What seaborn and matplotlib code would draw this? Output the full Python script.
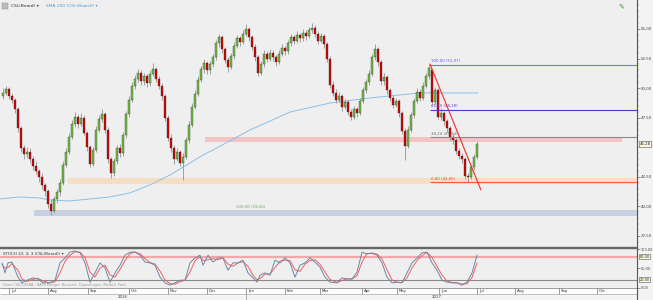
import matplotlib
matplotlib.use("Agg")
import matplotlib.pyplot as plt
import matplotlib.transforms as mtransforms
from matplotlib.ticker import MultipleLocator, FixedLocator
import numpy as np
import pandas as pd
import seaborn as sns

# ---------------- data ----------------
opens = [49.3,49.6,49.9,49.3,49.0,48.2,46.6,44.9,44.4,44.6,44.0,43.4,43.0,42.5,41.8,41.3,40.2,39.6,40.6,41.2,42.0,43.5,44.6,45.9,47.0,47.6,47.0,47.5,46.2,45.0,43.6,44.8,46.5,47.4,47.8,46.5,44.0,42.8,43.8,44.9,44.5,46.0,47.8,49.0,50.2,50.8,51.3,50.6,51.0,50.4,51.2,51.6,50.8,50.2,49.3,47.5,45.8,44.9,44.0,44.6,43.7,44.2,45.6,46.9,48.4,49.5,50.7,51.6,52.1,51.5,52.0,52.6,53.8,54.3,53.3,52.4,51.8,52.7,53.6,54.2,53.9,54.6,55.0,54.3,53.5,52.6,51.3,52.0,52.9,52.5,53.0,52.6,52.2,52.9,53.4,53.1,53.8,54.3,54.0,54.5,54.2,54.7,54.4,54.9,55.1,54.6,54.0,54.4,53.7,52.5,50.3,49.6,49.0,49.3,48.4,48.8,48.0,47.6,48.2,47.9,48.9,49.8,50.5,51.2,52.6,53.3,52.2,50.6,50.9,49.8,49.2,48.6,48.9,47.9,46.4,45.1,46.5,47.7,48.9,49.7,49.2,50.2,51.0,51.5,48.8,49.8,47.6,47.9,47.2,46.6,45.9,45.6,44.7,44.3,44.0,42.6,42.5,43.3,44.2]
closes = [49.6,49.9,49.3,49.0,48.2,46.6,44.9,44.4,44.6,44.0,43.4,43.0,42.5,41.8,41.3,40.2,39.6,40.6,41.2,42.0,43.5,44.6,45.9,47.0,47.6,47.0,47.5,46.2,45.0,43.6,44.8,46.5,47.4,47.8,46.5,44.0,42.8,43.8,44.9,44.5,46.0,47.8,49.0,50.2,50.8,51.3,50.6,51.0,50.4,51.2,51.6,50.8,50.2,49.3,47.5,45.8,44.9,44.0,44.6,43.7,44.2,45.6,46.9,48.4,49.5,50.7,51.6,52.1,51.5,52.0,52.6,53.8,54.3,53.3,52.4,51.8,52.7,53.6,54.2,53.9,54.6,55.0,54.3,53.5,52.6,51.3,52.0,52.9,52.5,53.0,52.6,52.2,52.9,53.4,53.1,53.8,54.3,54.0,54.5,54.2,54.7,54.4,54.9,55.1,54.6,54.0,54.4,53.7,52.5,50.3,49.6,49.0,49.3,48.4,48.8,48.0,47.6,48.2,47.9,48.9,49.8,50.5,51.2,52.6,53.3,52.2,50.6,50.9,49.8,49.2,48.6,48.9,47.9,46.4,45.1,46.5,47.7,48.9,49.7,49.2,50.2,51.0,51.7,48.8,49.8,47.6,47.9,47.2,46.6,45.9,45.6,44.7,44.3,44.0,42.6,42.5,43.3,44.2,45.3]
highs = [50.0,50.2,50.1,49.6,49.2,48.4,46.8,45.2,45.0,44.9,44.3,43.8,43.2,42.8,42.0,41.5,40.6,40.9,41.5,42.3,43.8,44.9,46.2,47.3,48.0,47.8,47.9,47.7,46.4,45.2,45.0,46.8,47.7,48.2,48.0,46.7,44.2,44.1,45.2,45.3,46.3,48.1,49.3,50.5,51.1,51.6,51.5,51.3,51.2,51.5,52.1,51.8,51.0,50.4,49.5,47.7,46.1,45.2,44.9,44.8,44.5,45.9,47.2,48.7,49.8,51.0,51.9,52.5,52.3,52.3,52.9,54.1,54.6,54.5,53.5,52.6,53.0,53.9,54.5,54.4,54.9,55.4,55.2,54.5,53.7,52.8,52.3,53.2,53.1,53.3,53.2,52.8,53.2,53.7,53.6,54.1,54.6,54.5,54.8,54.7,55.0,54.9,55.2,55.5,55.3,54.8,54.7,54.6,53.9,52.7,50.6,49.9,49.7,49.5,49.1,49.0,48.2,48.5,48.4,49.2,50.1,50.8,51.5,52.9,53.7,53.5,52.4,51.3,51.1,50.0,49.4,49.2,49.1,48.1,46.6,46.8,48.0,49.2,50.0,49.9,50.5,51.3,52.0,51.7,50.1,50.0,48.3,48.1,47.4,46.8,46.1,45.8,44.9,44.5,44.2,42.8,43.5,44.4,45.5]
lows = [49.1,49.4,49.1,48.7,47.9,46.3,44.6,44.0,44.1,43.7,43.1,42.7,42.1,41.5,40.9,39.9,39.3,39.4,40.3,40.9,41.8,43.3,44.4,45.7,46.7,46.6,46.8,46.0,44.7,43.3,43.4,44.6,46.3,47.1,46.2,43.7,42.4,42.6,43.6,44.2,44.3,45.8,47.6,48.8,49.9,50.5,50.3,50.3,50.1,50.2,51.0,50.5,49.9,49.0,47.2,45.5,44.6,43.6,43.8,43.4,42.2,44.0,45.4,46.7,48.2,49.3,50.5,51.3,51.2,51.2,51.8,52.4,53.5,53.0,52.1,51.4,51.6,52.5,53.4,53.6,53.7,54.4,54.0,53.2,52.3,51.0,51.1,51.8,52.2,52.3,52.3,51.9,52.0,52.7,52.8,52.9,53.6,53.7,53.8,53.9,54.0,54.1,54.2,54.7,54.3,53.7,53.8,53.4,52.2,50.0,49.3,48.7,48.8,48.1,48.2,47.7,47.3,47.4,47.6,47.7,48.7,49.6,50.3,51.0,52.4,51.9,50.3,50.3,49.5,48.9,48.3,48.4,47.6,46.1,43.9,44.9,46.3,47.5,48.7,48.9,49.0,50.0,50.8,48.6,48.6,47.4,47.3,46.9,46.3,45.6,45.3,44.4,44.0,43.7,42.3,42.05,42.3,43.1,44.0]

sma_idx = [-1, 5.7, 12.3, 15.7, 22.3, 29, 35.7, 42.3, 49, 55.7, 62.3, 66.7, 70, 82.3, 95.7, 109, 122.3, 132.3, 139, 158.3]
sma_val = [40.63, 40.80, 40.71, 40.54, 40.46, 40.63, 40.80, 41.14, 41.82, 42.66, 43.67, 44.35, 44.77, 46.46, 47.98, 48.74, 49.17, 49.42, 49.59, 49.59]

stoch_x = [-0.33,0.67,1.67,3,5,6.33,8,10,11.67,13.33,15.67,17.33,19,20.67,22.33,24,25.67,27.33,29,30.67,32.33,34,35.67,37.33,39,40.67,42.33,44,45.67,47.33,49,50.67,52.33,54,55.67,57.33,59,60.67,62.33,64,65.67,66.67,68.33,70,71.67,73.33,75,76.67,78.33,80,81.67,83.33,84.67,85.67,87.33,89,90.67,92.33,94,95.67,97.33,99,100.67,102.33,104,105.67,107.33,109,111.33,113,114.67,116.33,118,119.67,121.33,123,124.67,126.33,128,129.67,131.33,133,134.67,136.33,138,139.67,141.33,143,144.67,146.33,148,149.67,151.33,153,154.67,156.33,158]
stoch_k = [64,38,64,66,27,12,19,25,22,12,12,19,64,77,92,95,90,64,14,38,64,51,14,38,58,84,92,92,84,66,64,58,27,12,6,12,19,19,64,77,84,58,84,66,77,77,45,64,64,71,38,25,14,32,38,32,71,64,77,64,27,58,64,77,66,53,27,14,12,25,22,22,40,92,87,90,84,64,27,12,14,12,38,64,77,90,92,64,45,19,14,12,12,6,14,38,84]
stoch_d = [60,50,52,62,45,22,16,21,24,17,12,15,38,68,84,93,92,78,40,27,50,58,33,27,47,70,88,92,88,75,65,61,43,20,10,9,15,19,40,70,80,70,72,75,72,77,61,55,64,67,55,32,20,23,35,35,52,68,71,70,46,42,61,70,72,60,40,21,13,18,23,22,31,66,89,88,87,74,46,20,13,13,25,51,70,83,91,78,55,32,17,13,12,9,10,26,64]

price_ticks = [37.5, 40.0, 42.5, 47.5, 50.0, 52.5, 55.0]
last_price = 45.28
fib_levels = [51.97, 48.18, 45.84, 42.05]
fib_labels = ["100,00 (51,97)", "61,80 (48,18)", "38,20 (45,84)", "0,00 (42,05)"]
fib2_label = "100,00 (39,43)"
trend_x = [142.3, 159.3]
trend_y = [52.04, 41.39]
zone_pink = (67.3, 206.3, 45.45, 45.87)
zone_orange = (21.7, 212.0, 41.90, 42.40)
zone_blue = (10.3, 212.0, 39.15, 39.60)

month_pos = [2, 15, 28.33, 42, 55, 68, 81, 94, 105.67, 119.67, 131.33, 145.33, 158, 170.67, 185.33, 198]
month_lab = ["Jul", "Aug", "Sep", "Oct", "Nov", "Dec", "Jan", "Feb", "Mar", "Apr", "May", "Jun", "Jul", "Aug", "Sep", "Oct"]
year_lab = ["2016", "2017"]
year_pos = [40.0, 144.7]
year_sep = 81

# ---------------- figure ----------------
sns.set_theme(style="white")
plt.rcParams['font.family'] = ['DejaVu Sans']

W, H = 653, 300
fig = plt.figure(figsize=(W / 100, H / 100), dpi=100, facecolor='#f3f3f3')

def px_ax(x0, y0, x1, y1):
    return fig.add_axes([x0 / W, 1 - y1 / H, (x1 - x0) / W, (y1 - y0) / H])

BG = '#efefef'
ax = px_ax(0, 0, 637, 246.5)
axs = px_ax(0, 247.5, 637, 288)
axd = px_ax(0, 288, 637, 300)
XMIN, XMAX = -1, 211.33

n = min(len(opens), len(closes), len(highs), len(lows))
df = pd.DataFrame({'i': np.arange(n), 'o': opens[:n], 'c': closes[:n],
                   'h': highs[:n], 'l': lows[:n]})

# ---- main panel ----
ax.set_facecolor(BG)
ax.set_xlim(XMIN, XMAX)
ax.set_ylim(36.61, 57.45)

for (x0, x1, y0, y1), col in [(zone_blue, '#c9cfe3'), (zone_orange, '#f4dfc5'), (zone_pink, '#f3c4c4')]:
    ax.fill_between([x0, x1], y0, y1, color=col, lw=0, zorder=1)
ax.hlines(39.70, zone_blue[0], zone_blue[1], color='#b9c3cc', lw=0.5, zorder=1)
ax.text(77.7, 39.78, fib2_label, fontsize=2.8, color='#6aa86a', va='bottom', zorder=2)

sns.lineplot(x=sma_idx, y=sma_val, ax=ax, color='#8cc0e6', lw=0.7, sort=False,
             estimator=None, zorder=2)

up = df['c'] >= df['o']
ax.vlines(df['i'], df['l'], df['h'], color='#8a8a8a', lw=0.55, zorder=3)
body_b = np.minimum(df['o'], df['c'])
body_h = np.maximum(np.abs(df['c'] - df['o']), 0.04)
cols = np.where(up, '#74c043', '#d90000')
ax.bar(df['i'], body_h, bottom=body_b, width=0.72, color=cols, edgecolor='#2a2a2a',
       linewidth=0.25, zorder=4)

fib_cols = ['#7272ff', '#4b3cc0', '#8c8c8c', '#ff5a36']
lab_cols = ['#5a5af0', '#6040c0', '#707070', '#e04020']
for lv, lb, c1, c2 in zip(fib_levels, fib_labels, fib_cols, lab_cols):
    ax.hlines(lv, trend_x[0], XMAX, color=c1, lw=0.8, zorder=5)
    ax.text(trend_x[0] + 0.3, lv + 0.12, lb, fontsize=2.8, color=c2, va='bottom', zorder=6)
ax.plot(trend_x, trend_y, color='#ee2c2c', lw=0.8, zorder=6)

ax.yaxis.tick_right()
ax.yaxis.set_major_locator(FixedLocator(price_ticks))
ax.set_yticklabels([f"{v:.2f}".replace('.', ',') for v in price_ticks])
ax.yaxis.set_minor_locator(MultipleLocator(0.5))
ax.tick_params(axis='y', which='major', labelsize=2.9, length=2, width=0.4, pad=0.6,
               colors='#444', right=True, left=False)
ax.tick_params(axis='y', which='minor', length=1.2, width=0.3, colors='#666', right=True, left=False)
ax.set_xticks([])
for s in ['left', 'top']:
    ax.spines[s].set_visible(False)
ax.spines['right'].set_color('#555'); ax.spines['right'].set_linewidth(0.8)
ax.spines['bottom'].set_color('#666'); ax.spines['bottom'].set_linewidth(1.0)
trR = mtransforms.blended_transform_factory(ax.transAxes, ax.transData)
ax.text(1.004, last_price, f"{last_price:.2f}".replace('.', ','), transform=trR, fontsize=2.8,
        va='center', ha='left', color='#222', zorder=10, clip_on=False,
        bbox=dict(boxstyle='square,pad=0.15', fc='#fbf8df', ec='#555', lw=0.4))

# ---- stochastic panel ----
axs.set_facecolor(BG)
axs.set_xlim(XMIN, XMAX)
axs.set_ylim(-1.3, 104)
axs.axhline(80, color='#f2a8a8', lw=1.6, zorder=1)
axs.axhline(20, color='#8a8a8a', lw=0.8, zorder=1)
sns.lineplot(x=stoch_x, y=stoch_d, ax=axs, color='#f06060', lw=0.7, sort=False, estimator=None, zorder=3)
sns.lineplot(x=stoch_x, y=stoch_k, ax=axs, color='#6a88a8', lw=0.7, sort=False, estimator=None, zorder=4)
axs.yaxis.tick_right()
axs.set_yticks([0, 50, 100])
axs.set_yticklabels(["0,00", "50,00", "100,00"])
axs.tick_params(axis='y', labelsize=2.5, length=2, width=0.4, pad=0.6, colors='#444', right=True, left=False)
axs.set_xticks([])
for s in ['left', 'bottom']:
    axs.spines[s].set_visible(False)
axs.spines['top'].set_color('#666'); axs.spines['top'].set_linewidth(1.0)
axs.spines['right'].set_color('#555'); axs.spines['right'].set_linewidth(0.8)
trS = mtransforms.blended_transform_factory(axs.transAxes, axs.transData)
for v in [80, 20]:
    axs.text(1.004, v, f"{v:.2f}".replace('.', ','), transform=trS, fontsize=2.5, va='center',
             ha='left', color='#222', clip_on=False,
             bbox=dict(boxstyle='square,pad=0.12', fc='#fbf8df', ec='#555', lw=0.4))
axs.text(0.004, 0.84, "STOCH 10; 3; 3 (CSL(Board)) \u25be", transform=axs.transAxes,
         fontsize=2.9, color='#333', va='center')
axs.text(0.004, 0.07, "Cboe CXE/CXEBA - BATS Europe: Brussels, Copenhagen, Madrid, Paris",
         transform=axs.transAxes, fontsize=2.5, color='#9a9a9a', va='center')

# ---- date strip ----
axd.set_facecolor('#f4f4f4')
axd.set_xlim(XMIN, XMAX)
axd.set_ylim(0, 12)
axd.fill_between([XMIN, XMAX], 6, 12, color='#fdfdfd', lw=0)
axd.axhline(6, color='#999', lw=0.4)
axd.axhline(11.9, color='#777', lw=0.5)
for p, lab in zip(month_pos, month_lab):
    axd.vlines(p, 6, 12, color='#555', lw=0.4)
    axd.text(p + 0.6, 9, lab, fontsize=2.8, color='#333', va='center', ha='left')
axd.vlines(year_sep, 0, 6, color='#777', lw=0.4)
for p, lab in zip(year_pos, year_lab):
    axd.text(p, 3, lab, fontsize=2.8, color='#333', va='center', ha='center')
axd.set_xticks([]); axd.set_yticks([])
for s in ['left', 'top', 'bottom']:
    axd.spines[s].set_visible(False)
axd.spines['right'].set_color('#555'); axd.spines['right'].set_linewidth(0.8)

# ---- header ----
fig.patches.append(plt.Rectangle((2 / W, 1 - 9 / H), 6 / W, 6 / H, transform=fig.transFigure,
                                 fc='#bdbdbd', ec='#888', lw=0.3))
fig.text(11 / W, 1 - 6 / H, "CSL(Board) \u25be", fontsize=3.2, color='#333', va='center')
fig.text(46 / W, 1 - 6 / H, "SMA 200 (CSL(Board)) \u25be", fontsize=3.2, color='#5a9ad0', va='center')
fig.text(618 / W, 1 - 6 / H, "\u270e", fontsize=5, color='#3c9a3c', va='center')

fig.savefig("out.png", dpi=100, facecolor=fig.get_facecolor())
